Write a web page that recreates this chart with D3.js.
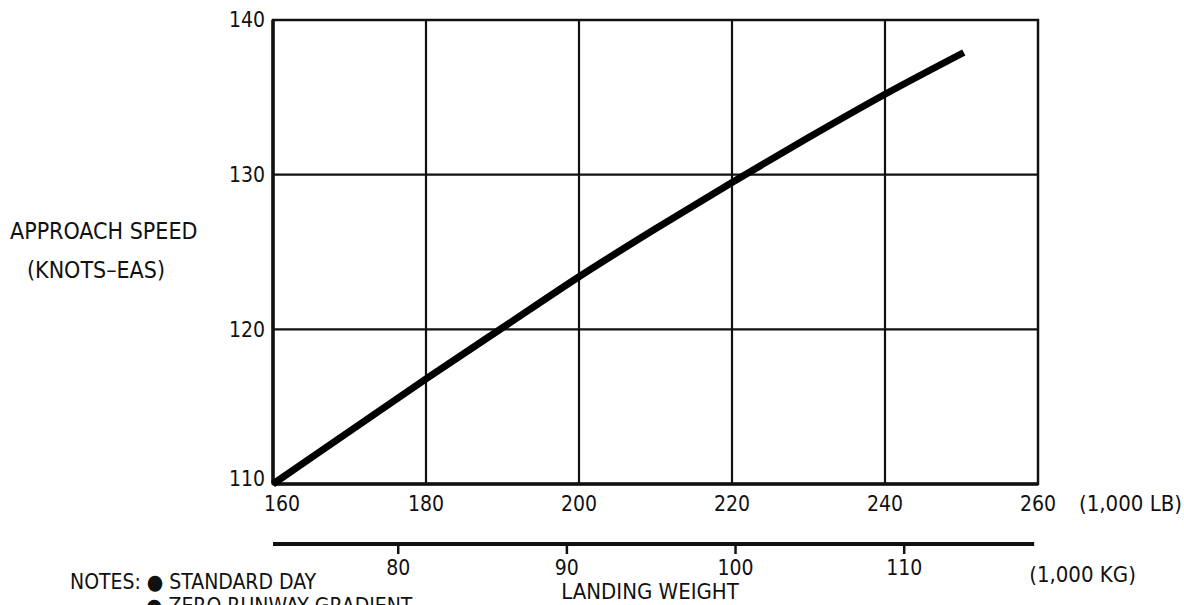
<!DOCTYPE html>
<html>
<head>
<meta charset="utf-8">
<script src="https://cdn.jsdelivr.net/npm/d3@7"></script>
<style>
  body { margin: 0; background: #fff; }
  svg text { font-family: "Liberation Sans Narrow", "DejaVu Sans Condensed", sans-serif; fill: #111; }
</style>
</head>
<body>
<div id="chart"></div>
<script>
// Landing weight (1,000 LB) vs approach speed (knots EAS)
const weightLb = [160, 170, 180, 190, 200, 210, 220, 230, 240, 250.3];
const speed = [110, 113.4, 116.8, 120.1, 123.4, 126.5, 129.5, 132.4, 135.2, 137.9];

const lbTicks = [160, 180, 200, 220, 240, 260];
const kgTicks = [80, 90, 100, 110];
const speedTicks = [110, 120, 130, 140];
const LB_PER_KG = 2.20462;

const W = 1184, H = 605;
const margin = { top: 20, right: 146, bottom: 121, left: 273 };
const width = W - margin.left - margin.right;
const height = H - margin.top - margin.bottom;

const svg = d3.select("#chart").append("svg").attr("width", W).attr("height", H);
const g = svg.append("g").attr("transform", `translate(${margin.left},${margin.top})`);

const x = d3.scaleLinear().domain([160, 260]).range([0, width]);
const y = d3.scaleLinear().domain([110, 140]).range([height, 0]);

// Grid
g.selectAll(".vgrid")
  .data(lbTicks.slice(1, -1))
  .enter()
  .append("line")
  .attr("x1", d => x(d)).attr("x2", d => x(d))
  .attr("y1", 0).attr("y2", height)
  .style("stroke", "#111").style("stroke-width", 2.2);

g.selectAll(".hgrid")
  .data(speedTicks.slice(1, -1))
  .enter()
  .append("line")
  .attr("x1", 0).attr("x2", width)
  .attr("y1", d => y(d)).attr("y2", d => y(d))
  .style("stroke", "#111").style("stroke-width", 2.2);

// Frame
g.append("rect")
  .attr("width", width).attr("height", height)
  .style("fill", "none").style("stroke", "#111").style("stroke-width", 2.5);
g.append("line").attr("x1", 0).attr("x2", 0).attr("y1", 0).attr("y2", height)
  .style("stroke", "#111").style("stroke-width", 3.5);
g.append("line").attr("x1", 0).attr("x2", width).attr("y1", height).attr("y2", height)
  .style("stroke", "#111").style("stroke-width", 3.5);

// Speed line
const line = d3.line().x((d, i) => x(weightLb[i])).y(d => y(d)).curve(d3.curveMonotoneX);
g.append("path")
  .datum(speed)
  .attr("d", line)
  .style("fill", "none")
  .style("stroke", "#000")
  .style("stroke-width", 7);

// Y tick labels
g.selectAll(".ylab")
  .data(speedTicks)
  .enter()
  .append("text")
  .attr("x", -8)
  .attr("y", d => y(d))
  .attr("dy", d => d === 110 ? "0.1em" : "0.35em")
  .style("text-anchor", "end")
  .style("font-size", "21px")
  .text(d => d);

// LB tick labels
g.selectAll(".xlab")
  .data(lbTicks)
  .enter()
  .append("text")
  .attr("x", d => x(d) + (d === 160 ? 9 : 0))
  .attr("y", height + 27)
  .style("text-anchor", "middle")
  .style("font-size", "21px")
  .text(d => d);

g.append("text")
  .attr("x", width + 41)
  .attr("y", height + 27)
  .style("font-size", "22px")
  .text("(1,000 LB)");

// KG scale
const kgY = height + 60;
g.append("line")
  .attr("x1", 0).attr("x2", x(259.5))
  .attr("y1", kgY).attr("y2", kgY)
  .style("stroke", "#111").style("stroke-width", 4);

g.selectAll(".kgtick")
  .data(kgTicks)
  .enter()
  .append("line")
  .attr("x1", d => x(d * LB_PER_KG)).attr("x2", d => x(d * LB_PER_KG))
  .attr("y1", kgY).attr("y2", kgY + 10)
  .style("stroke", "#111").style("stroke-width", 2.5);

g.selectAll(".kglab")
  .data(kgTicks)
  .enter()
  .append("text")
  .attr("x", d => x(d * LB_PER_KG))
  .attr("y", kgY + 31)
  .style("text-anchor", "middle")
  .style("font-size", "21px")
  .text(d => d);

g.append("text")
  .attr("x", x(259.5) - 5)
  .attr("y", kgY + 38)
  .style("font-size", "22px")
  .text("(1,000 KG)");

// Axis titles
svg.append("text")
  .attr("x", 10).attr("y", 239)
  .style("font-size", "23px")
  .text("APPROACH SPEED");
svg.append("text")
  .attr("x", 27).attr("y", 278)
  .style("font-size", "23px")
  .text("(KNOTS–EAS)");

svg.append("text")
  .attr("x", 650).attr("y", 599)
  .style("text-anchor", "middle")
  .style("font-size", "22px")
  .text("LANDING WEIGHT");

// Notes
svg.append("text")
  .attr("x", 70).attr("y", 589)
  .style("font-size", "21px")
  .text("NOTES:  ● STANDARD DAY");
svg.append("text")
  .attr("x", 146).attr("y", 613)
  .style("font-size", "21px")
  .text("● ZERO RUNWAY GRADIENT");
</script>
</body>
</html>
